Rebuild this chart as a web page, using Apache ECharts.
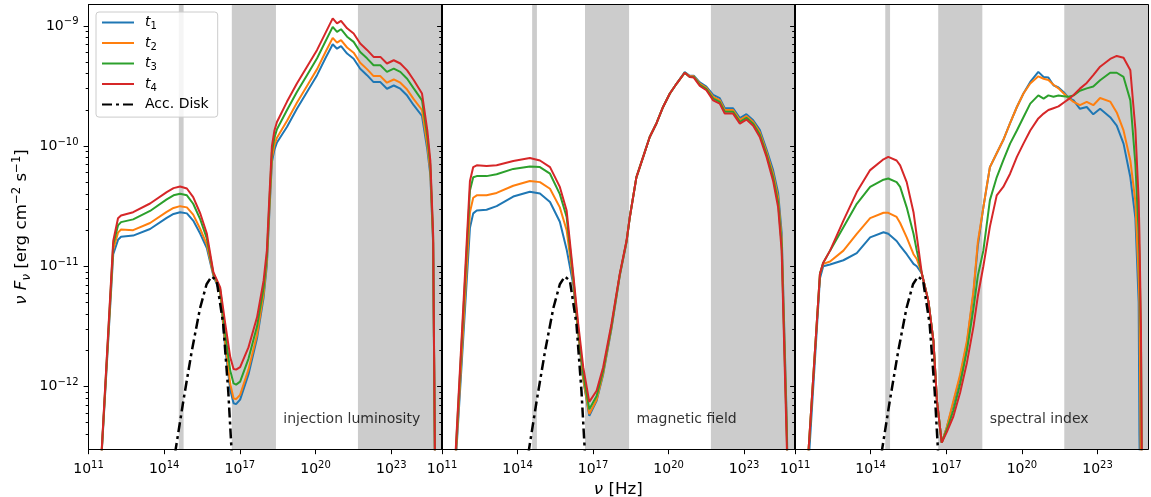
<!DOCTYPE html>
<html>
<head>
<meta charset="utf-8">
<script src="https://cdn.jsdelivr.net/npm/echarts@6/dist/echarts.min.js"></script>
<style>
html, body { margin: 0; padding: 0; background: #fff; }
#chart { width: 1151px; height: 497px; }
</style>
</head>
<body>
<div id="chart"></div>
<script>
// all values are log10(nu / Hz) and log10(nu F_nu / erg cm^-2 s^-1)

// panel 1: injection luminosity
const P1_NU = [11.40, 11.98, 12.17, 12.29, 12.77, 13.44, 14.10, 14.37, 14.63, 14.90, 15.15, 15.43, 15.69, 15.95, 16.22, 16.42, 16.62, 16.75, 16.85, 17.01, 17.34, 17.68, 17.94, 18.07, 18.17, 18.27, 18.37, 18.47, 18.87, 19.26, 19.66, 20.06, 20.39, 20.68, 20.85, 21.01, 21.25, 21.51, 21.77, 22.04, 22.30, 22.57, 22.83, 23.10, 23.36, 23.63, 23.89, 24.22, 24.43, 24.55, 24.66, 24.73, 24.78]
const P1_T1 = [-13.0, -10.9, -10.78, -10.755, -10.745, -10.69, -10.598, -10.565, -10.55, -10.56, -10.62, -10.73, -10.848, -11.08, -11.22, -11.68, -12.03, -12.14, -12.147, -12.11, -11.9, -11.6, -11.26, -10.99, -10.55, -10.13, -10.03, -9.97, -9.84, -9.69, -9.55, -9.41, -9.27, -9.153, -9.19, -9.168, -9.23, -9.273, -9.357, -9.41, -9.468, -9.468, -9.523, -9.496, -9.523, -9.58, -9.66, -9.75, -10.03, -10.24, -10.81, -12.6, -13.5]
const P1_T2 = [-13.0, -10.86, -10.72, -10.694, -10.70, -10.64, -10.548, -10.515, -10.50, -10.51, -10.57, -10.69, -10.818, -11.07, -11.21, -11.64, -11.98, -12.10, -12.105, -12.07, -11.86, -11.57, -11.23, -10.96, -10.52, -10.1, -9.99, -9.93, -9.79, -9.64, -9.50, -9.36, -9.22, -9.10, -9.14, -9.118, -9.18, -9.223, -9.307, -9.36, -9.418, -9.418, -9.473, -9.446, -9.473, -9.53, -9.61, -9.70, -9.99, -10.21, -10.79, -12.57, -13.5]
const P1_T3 = [-13.0, -10.82, -10.66, -10.633, -10.61, -10.54, -10.444, -10.41, -10.397, -10.41, -10.48, -10.61, -10.768, -11.06, -11.19, -11.56, -11.87, -11.975, -11.985, -11.96, -11.77, -11.5, -11.18, -10.92, -10.47, -10.05, -9.93, -9.86, -9.70, -9.55, -9.41, -9.27, -9.13, -9.008, -9.05, -9.028, -9.09, -9.133, -9.217, -9.27, -9.328, -9.328, -9.383, -9.356, -9.383, -9.44, -9.52, -9.62, -9.92, -10.16, -10.76, -12.55, -13.5]
const P1_T4 = [-13.0, -10.79, -10.60, -10.577, -10.55, -10.478, -10.383, -10.35, -10.336, -10.353, -10.425, -10.561, -10.728, -11.05, -11.175, -11.478, -11.758, -11.855, -11.86, -11.84, -11.675, -11.425, -11.12, -10.87, -10.42, -10.0, -9.87, -9.80, -9.63, -9.48, -9.34, -9.20, -9.06, -8.938, -8.98, -8.958, -9.02, -9.063, -9.147, -9.20, -9.258, -9.258, -9.313, -9.286, -9.313, -9.37, -9.45, -9.563, -9.87, -10.12, -10.73, -12.53, -13.5]

// panel 2: magnetic field
const P2_NU = [11.35, 12.11, 12.24, 12.38, 12.77, 13.17, 13.83, 14.49, 14.89, 15.29, 15.68, 15.95, 16.21, 16.41, 16.61, 16.85, 17.14, 17.40, 17.73, 18.06, 18.33, 18.46, 18.72, 18.99, 19.25, 19.52, 19.78, 20.05, 20.32, 20.64, 20.84, 21.00, 21.24, 21.50, 21.77, 22.03, 22.23, 22.56, 22.83, 23.09, 23.36, 23.62, 23.89, 24.15, 24.35, 24.49, 24.70, 24.75]
const P2_T1 = [-13.3, -10.68, -10.56, -10.536, -10.53, -10.5, -10.42, -10.38, -10.395, -10.465, -10.63, -10.86, -11.15, -11.56, -11.95, -12.245, -12.12, -11.9, -11.52, -11.08, -10.8, -10.59, -10.26, -10.09, -9.925, -9.81, -9.675, -9.563, -9.48, -9.385, -9.415, -9.415, -9.47, -9.506, -9.575, -9.602, -9.685, -9.685, -9.768, -9.735, -9.785, -9.865, -10.03, -10.2, -10.39, -10.72, -12.35, -13.3]
const P2_T2 = [-13.3, -10.55, -10.43, -10.41, -10.41, -10.39, -10.33, -10.29, -10.3, -10.355, -10.51, -10.7, -11.12, -11.55, -11.94, -12.23, -12.11, -11.89, -11.51, -11.075, -10.795, -10.59, -10.26, -10.09, -9.925, -9.81, -9.675, -9.563, -9.48, -9.39, -9.42, -9.42, -9.48, -9.516, -9.59, -9.617, -9.7, -9.7, -9.783, -9.75, -9.8, -9.885, -10.05, -10.23, -10.43, -10.77, -12.4, -13.3]
const P2_T3 = [-13.3, -10.37, -10.26, -10.25, -10.25, -10.235, -10.19, -10.17, -10.175, -10.23, -10.4, -10.59, -11.09, -11.52, -11.9, -12.19, -12.08, -11.87, -11.5, -11.07, -10.79, -10.59, -10.26, -10.09, -9.925, -9.81, -9.675, -9.563, -9.48, -9.39, -9.425, -9.425, -9.49, -9.526, -9.605, -9.632, -9.715, -9.715, -9.798, -9.765, -9.815, -9.905, -10.07, -10.26, -10.47, -10.82, -12.45, -13.3]
const P2_T4 = [-13.3, -10.29, -10.175, -10.16, -10.165, -10.16, -10.125, -10.1, -10.12, -10.175, -10.34, -10.536, -11.06, -11.48, -11.84, -12.128, -12.036, -11.84, -11.48, -11.063, -10.786, -10.59, -10.26, -10.09, -9.925, -9.81, -9.675, -9.563, -9.48, -9.39, -9.425, -9.43, -9.5, -9.536, -9.62, -9.647, -9.73, -9.73, -9.813, -9.78, -9.83, -9.925, -10.09, -10.29, -10.51, -10.87, -12.53, -13.3]

// panel 3: spectral index
const P3_NU = [11.30, 11.99, 12.12, 12.39, 12.92, 13.45, 13.98, 14.51, 14.70, 15.03, 15.17, 15.43, 15.70, 15.83, 16.03, 16.29, 16.49, 16.63, 16.82, 17.02, 17.28, 17.55, 17.82, 18.08, 18.25, 18.47, 18.73, 19.00, 19.26, 19.53, 19.80, 20.06, 20.33, 20.65, 20.86, 21.05, 21.25, 21.45, 21.65, 21.85, 22.05, 22.30, 22.57, 22.83, 23.10, 23.50, 23.76, 24.03, 24.30, 24.50, 24.63, 24.66, 24.72, 24.78]
const P3_T1 = [-13.45, -11.1, -11.0, -10.985, -10.95, -10.89, -10.76, -10.717, -10.73, -10.79, -10.83, -10.9, -10.98, -11.0, -11.06, -11.29, -11.62, -12.12, -12.467, -12.34, -12.14, -11.92, -11.64, -11.22, -10.83, -10.51, -10.175, -10.06, -9.95, -9.81, -9.675, -9.563, -9.467, -9.383, -9.425, -9.43, -9.494, -9.513, -9.55, -9.6, -9.62, -9.69, -9.675, -9.736, -9.69, -9.76, -9.83, -9.98, -10.26, -10.6, -11.3, -12.4, -13.3, -13.3]
const P3_T2 = [-13.3, -11.063, -10.98, -10.96, -10.87, -10.73, -10.6, -10.555, -10.555, -10.59, -10.64, -10.76, -10.9, -10.94, -11.06, -11.29, -11.62, -12.12, -12.467, -12.34, -12.12, -11.9, -11.62, -11.2, -10.8, -10.51, -10.175, -10.06, -9.95, -9.81, -9.675, -9.563, -9.48, -9.42, -9.44, -9.45, -9.49, -9.52, -9.56, -9.6, -9.633, -9.66, -9.633, -9.66, -9.6, -9.63, -9.72, -9.87, -10.12, -10.46, -11.1, -11.3, -12.8, -13.3]
const P3_T3 = [-13.3, -11.063, -10.97, -10.87, -10.675, -10.48, -10.34, -10.28, -10.27, -10.30, -10.34, -10.51, -10.73, -10.87, -11.06, -11.29, -11.62, -12.12, -12.467, -12.36, -12.2, -11.98, -11.7, -11.35, -11.08, -10.87, -10.45, -10.26, -10.12, -9.98, -9.87, -9.76, -9.647, -9.578, -9.605, -9.578, -9.59, -9.58, -9.585, -9.59, -9.578, -9.54, -9.52, -9.505, -9.453, -9.39, -9.39, -9.425, -9.62, -10.15, -10.73, -10.9, -11.6, -13.3]
const P3_T4 = [-13.3, -11.063, -10.97, -10.87, -10.62, -10.383, -10.2, -10.11, -10.09, -10.12, -10.16, -10.30, -10.55, -10.75, -11.06, -11.29, -11.62, -12.12, -12.467, -12.38, -12.25, -12.05, -11.8, -11.5, -11.25, -11.0, -10.67, -10.41, -10.34, -10.23, -10.09, -9.98, -9.87, -9.77, -9.73, -9.70, -9.685, -9.67, -9.64, -9.61, -9.575, -9.522, -9.475, -9.41, -9.34, -9.275, -9.25, -9.265, -9.37, -9.86, -10.45, -10.73, -11.5, -13.3]

// accretion disk, same in every panel
const DISK_NU = [14.20, 14.45, 14.76, 15.09, 15.42, 15.68, 15.88, 16.08, 16.34, 16.54, 16.67, 16.80]
const DISK_F = [-13.6, -12.53, -12.12, -11.71, -11.35, -11.15, -11.085, -11.12, -11.48, -12.04, -12.53, -13.2]

// shaded observing bands (log10 nu)
const BANDS = [[14.58, 14.77], [16.68, 18.43], [21.68, 25]]

const NU_TICKS = [11, 14, 17, 20, 23]
const F_TICKS = [-12, -11, -10, -9]
const SERIES_NAMES = ['t1', 't2', 't3', 't4']
const COLORS = ['#1f77b4', '#ff7f0e', '#2ca02c', '#d62728']
const PANEL_LABELS = ['injection luminosity', 'magnetic field', 'spectral index']
const PANEL_LABEL_AT = [18.72, -12.27]

const NU_MIN = 11
const NU_MAX = 25
const F_MIN = Math.log10(3e-13)
const F_MAX = Math.log10(1.5e-9)

const F_MINOR = []
for (let n = -13; n <= -9; n++) {
  for (let k = 2; k <= 9; k++) {
    const v = n + Math.log10(k)
    if (v > F_MIN + 1e-6 && v < F_MAX) F_MINOR.push(v)
  }
}

const panels = [
  { nu: P1_NU, t: [P1_T1, P1_T2, P1_T3, P1_T4] },
  { nu: P2_NU, t: [P2_T1, P2_T2, P2_T3, P2_T4] },
  { nu: P3_NU, t: [P3_T1, P3_T2, P3_T3, P3_T4] }
]

const FONT = 'DejaVu Sans'
const GRID_LEFT = [88.5, 442, 795]
const GRID_WIDTH = [353.2, 352.5, 353]
const spine = { color: '#000', width: 1 }

function pow10(v) {
  const e = Math.round(v)
  return '{b|10}{s|' + (e < 0 ? '\u2212' + (-e) : e) + '}'
}

const powRich = {
  b: { fontFamily: FONT, fontSize: 14, color: '#000', lineHeight: 18 },
  s: { fontFamily: FONT, fontSize: 10, color: '#000', lineHeight: 10, verticalAlign: 'top' }
}

const chart = echarts.init(document.getElementById('chart'), null, { renderer: 'canvas' })

const grid = []
const xAxis = []
const yAxis = []
const series = []

panels.forEach((p, i) => {
  grid.push({
    left: GRID_LEFT[i], top: 4.7, width: GRID_WIDTH[i], height: 444.6,
    containLabel: false, outerBoundsMode: 'none'
  })

  xAxis.push({
    type: 'value', gridIndex: i, min: NU_MIN, max: NU_MAX, position: 'bottom', z: 10,
    axisLine: { show: true, onZero: false, lineStyle: spine },
    axisTick: { show: true, customValues: NU_TICKS, length: 4.9, lineStyle: spine },
    axisLabel: { show: true, customValues: NU_TICKS, formatter: pow10, margin: 11, rich: powRich },
    splitLine: { show: false },
    name: i === 1 ? '{i|\u03bd}{n| [Hz]}' : '',
    nameLocation: 'middle',
    nameGap: 29,
    nameTextStyle: {
      rich: {
        i: { fontFamily: FONT, fontSize: 16.7, fontStyle: 'italic', color: '#000' },
        n: { fontFamily: FONT, fontSize: 16.7, color: '#000' }
      }
    }
  })
  xAxis.push({
    type: 'value', gridIndex: i, min: NU_MIN, max: NU_MAX, position: 'top', z: 10,
    axisLine: { show: true, onZero: false, lineStyle: spine },
    axisTick: { show: false }, axisLabel: { show: false }, splitLine: { show: false }
  })

  yAxis.push({
    type: 'value', gridIndex: i, min: F_MIN, max: F_MAX, position: 'left', z: 10,
    axisLine: { show: true, onZero: false, lineStyle: spine },
    axisTick: { show: true, customValues: F_TICKS, length: 4.9, lineStyle: spine },
    axisLabel: { show: i === 0, customValues: F_TICKS, formatter: pow10, margin: 10, rich: powRich },
    splitLine: { show: false },
    name: i === 0 ? '{i|\u03bd F}{sb|\u03bd}{n| [erg cm}{sp|\u22122}{n| s}{sp|\u22121}{n|]}' : '',
    nameLocation: 'middle',
    nameGap: 56,
    nameTextStyle: {
      rich: {
        i: { fontFamily: FONT, fontSize: 16.7, fontStyle: 'italic', color: '#000', lineHeight: 22 },
        sb: { fontFamily: FONT, fontSize: 11.7, fontStyle: 'italic', color: '#000', lineHeight: 12, verticalAlign: 'bottom' },
        n: { fontFamily: FONT, fontSize: 16.7, color: '#000', lineHeight: 22 },
        sp: { fontFamily: FONT, fontSize: 11.7, color: '#000', lineHeight: 12, verticalAlign: 'top' }
      }
    }
  })
  yAxis.push({
    type: 'value', gridIndex: i, min: F_MIN, max: F_MAX, position: 'left', z: 10,
    axisLine: { show: false },
    axisTick: { show: true, customValues: F_MINOR, length: 2.8, lineStyle: spine },
    axisLabel: { show: false }, splitLine: { show: false }
  })
  yAxis.push({
    type: 'value', gridIndex: i, min: F_MIN, max: F_MAX, position: 'right', z: 10,
    axisLine: { show: true, onZero: false, lineStyle: spine },
    axisTick: { show: false }, axisLabel: { show: false }, splitLine: { show: false }
  })

  p.t.forEach((vals, k) => {
    const s = {
      type: 'line',
      name: SERIES_NAMES[k],
      xAxisIndex: 2 * i,
      yAxisIndex: 3 * i,
      data: p.nu.map((x, j) => [x, vals[j]]),
      symbol: 'none',
      lineStyle: { color: COLORS[k], width: 2 },
      itemStyle: { color: COLORS[k] },
      z: 2,
      silent: true
    }
    if (k === 0) {
      s.markArea = {
        silent: true,
        itemStyle: { color: '#cccccc' },
        data: BANDS.map(b => [{ xAxis: b[0] }, { xAxis: b[1] }])
      }
    }
    series.push(s)
  })

  series.push({
    type: 'line',
    name: 'Acc. Disk',
    xAxisIndex: 2 * i,
    yAxisIndex: 3 * i,
    data: DISK_NU.map((x, j) => [x, DISK_F[j]]),
    symbol: 'none',
    lineStyle: { color: '#000', width: 2.5, type: [10, 4, 3, 4] },
    itemStyle: { color: '#000' },
    z: 3,
    silent: true
  })

  series.push({
    type: 'scatter',
    name: 'label' + i,
    xAxisIndex: 2 * i,
    yAxisIndex: 3 * i,
    data: [PANEL_LABEL_AT],
    symbolSize: 0,
    silent: true,
    z: 4,
    label: {
      show: true, position: 'right', distance: 0,
      formatter: PANEL_LABELS[i],
      fontFamily: FONT, fontSize: 14, color: '#000'
    }
  })
})

chart.setOption({
  animation: false,
  backgroundColor: '#fff',
  grid,
  xAxis,
  yAxis,
  legend: {
    data: ['t1', 't2', 't3', 't4', 'Acc. Disk'],
    orient: 'vertical',
    left: 96,
    top: 12,
    itemWidth: 32,
    itemHeight: 18,
    itemGap: 4.3,
    padding: [3.3, 9, 5.4, 5],
    backgroundColor: 'rgba(255,255,255,0.8)',
    borderColor: '#cccccc',
    borderWidth: 1,
    borderRadius: 3,
    selectedMode: false,
    z: 20,
    itemStyle: { opacity: 0 },
    formatter(name) {
      if (name === 'Acc. Disk') return '{n|Acc. Disk}'
      return '{i|t}{sb|' + name.slice(1) + '}'
    },
    textStyle: {
      padding: [0, 0, 0, 6],
      rich: {
        n: { fontFamily: FONT, fontSize: 14, color: '#000', lineHeight: 18 },
        i: { fontFamily: FONT, fontSize: 14, fontStyle: 'italic', color: '#000', lineHeight: 18 },
        sb: { fontFamily: FONT, fontSize: 10, color: '#000', lineHeight: 10, verticalAlign: 'bottom' }
      }
    }
  },
  series
})
</script>
</body>
</html>
